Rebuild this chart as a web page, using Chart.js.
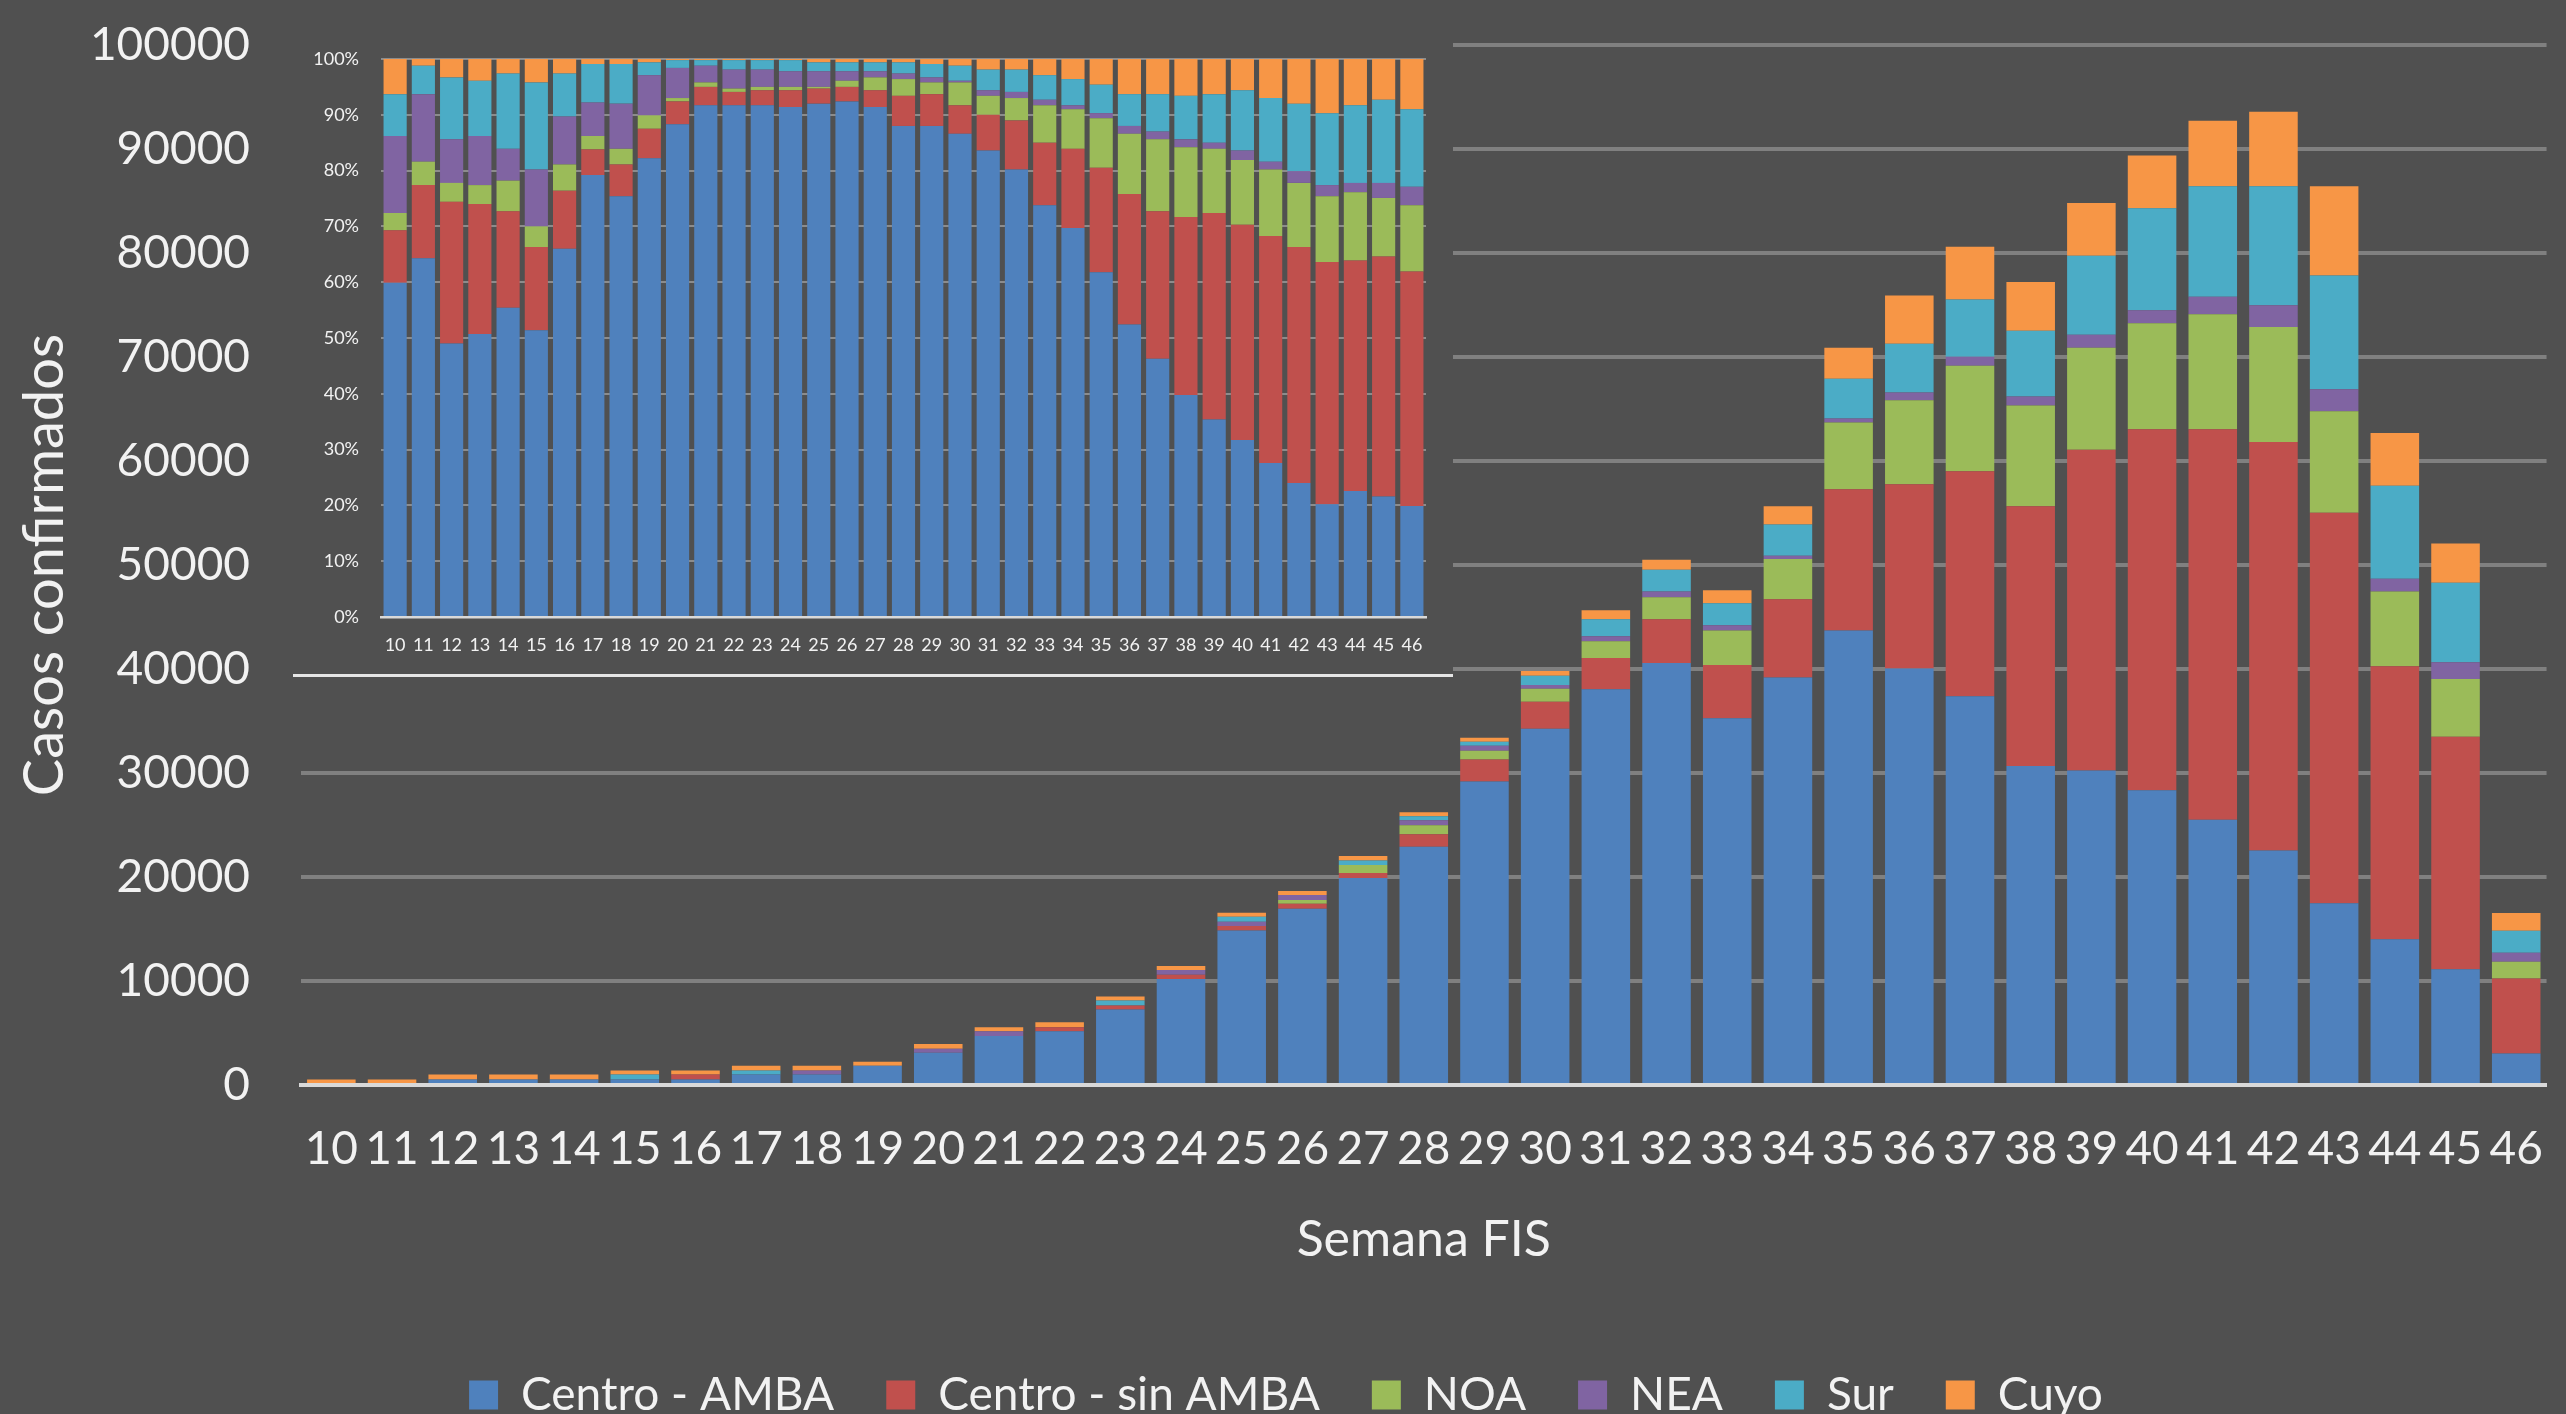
<!DOCTYPE html>
<html>
<head>
<meta charset="utf-8">
<script src="https://cdn.jsdelivr.net/npm/chart.js@4.4.1/dist/chart.umd.min.js"></script>
<style>
  html, body { margin: 0; padding: 0; overflow: hidden; background: #505050; width: 2566px; height: 1414px; }
  #main { position: absolute; left: 0; top: 0; }
  #inset-box { position: absolute; left: 293px; top: 0; width: 1160px; height: 674px; background: #505050; border-bottom: 3px solid #e6e6e6; }
  #inset { display: block; }
</style>
</head>
<body>
<canvas id="main" width="2580" height="1428"></canvas>
<div id="inset-box"><canvas id="inset" width="1160" height="674"></canvas></div>
<script>
// semanas epidemiologicas (FIS)
const semanas = ['10','11','12','13','14','15','16','17','18','19','20','21','22','23','24','25','26','27','28',
                 '29','30','31','32','33','34','35','36','37','38','39','40','41','42','43','44','45','46'];

const regiones = ['Centro - AMBA', 'Centro - sin AMBA', 'NOA', 'NEA', 'Sur', 'Cuyo'];
const colores  = ['#4F81BD', '#C0504D', '#9BBB59', '#8064A2', '#4BACC6', '#F79646'];

// casos confirmados por semana (grafico principal)
const centroAmba   = [190,190,540,540,540,540,540,1010,1010,1860,3100,4710,5180,7270,10200,14860,16940,19900,22900,
                      29190,34260,38050,40570,35260,39180,43710,40050,37380,30680,30250,28350,25510,22540,17480,14020,11120,3030];
const centroSinAmba = [0,0,0,0,0,0,470,0,0,0,0,0,380,380,390,420,480,480,1210,
                      2100,2580,3000,4210,5120,7520,13570,17720,21640,24960,30840,34710,37550,39290,37550,26250,22360,7220];
const noa          = [0,0,0,0,0,0,0,0,0,0,0,0,0,0,0,0,380,770,870,
                      860,1250,1630,2120,3330,3870,6430,8060,10140,9700,9810,10190,11060,11050,9760,7170,5560,1610];
const nea          = [0,0,0,0,0,0,0,0,380,0,380,470,0,0,470,410,480,0,470,
                      480,380,480,550,490,330,380,760,870,870,1250,1240,1670,2100,2100,1230,1600,860];
const sur          = [0,0,0,0,0,470,0,380,0,0,0,0,0,470,0,480,0,440,390,
                      380,890,1620,2100,2120,3000,3810,4690,5500,6320,7580,9820,10620,11430,10940,8960,7660,2100];
const cuyo         = [350,350,470,470,470,380,380,470,470,380,470,380,480,380,380,390,380,420,380,
                      390,450,870,950,1250,1740,3000,4630,5070,4690,5070,5070,6300,7170,8580,5060,3770,1730];

// distribucion porcentual (grafico chico)
const pctCentroAmba    = [59.9,64.3,49,50.7,55.4,51.4,66,79.2,75.4,82.2,88.3,91.7,91.7,91.7,91.4,92,92.4,91.4,88,
                          88,86.6,83.6,80.2,73.8,69.7,61.8,52.4,46.3,39.8,35.4,31.7,27.6,24,20.2,22.6,21.6,19.9];
const pctCentroSinAmba = [9.4,13.1,25.4,23.3,17.3,14.9,10.4,4.6,5.7,5.3,4.1,3.3,2.4,2.7,3,2.7,2.6,3,5.4,
                          5.7,5.1,6.4,8.8,11.2,14.2,18.7,23.4,26.4,31.9,37,38.6,40.7,42.3,43.4,41.3,43,42];
const pctNoa           = [3.1,4.2,3.4,3.4,5.5,3.7,4.7,2.4,2.8,2.4,0.6,0.8,0.6,0.6,0.6,0.3,1.1,2.3,3,
                          2.1,4.1,3.4,4,6.7,7.1,8.9,10.8,12.9,12.5,11.5,11.6,11.9,11.5,11.8,12.2,10.5,11.9];
const pctNea           = [13.8,12.1,7.8,8.8,5.7,10.2,8.6,6,8.1,7.2,5.4,3,3.4,3.1,2.8,2.8,1.7,1.1,1,
                          0.9,0.3,1,1.1,1,0.7,0.9,1.4,1.4,1.4,1.1,1.7,1.4,2.1,2,1.7,2.7,3.3];
const pctSur           = [7.5,5.1,11.1,9.9,13.5,15.6,7.7,6.9,7.1,2.3,1.4,1,1.7,1.7,2,1.6,1.6,1.6,2,
                          2.4,2.7,3.7,4,4.4,4.7,5.1,5.7,6.7,7.8,8.7,10.8,11.4,12.1,12.9,13.9,14.9,13.9];
const pctCuyo          = [6.3,1.2,3.3,3.9,2.6,4.2,2.6,0.9,0.9,0.6,0.2,0.2,0.2,0.2,0.2,0.6,0.6,0.6,0.6,
                          0.9,1.2,1.9,1.9,2.9,3.6,4.6,6.3,6.3,6.6,6.3,5.6,7,8,9.7,8.3,7.3,9];

const yTicksCasos = [0, 100000, 10000];   // min, max, paso
const yTicksPct   = [0, 100, 10];

Chart.defaults.font.family = 'Lato, "Open Sans", sans-serif';
Chart.defaults.color = '#f2f2f2';

function armarDatasets(listas, barPct) {
    return listas.map((data, i) => ({
        label: regiones[i],
        data: data,
        backgroundColor: colores[i],
        borderWidth: 0,
        barPercentage: barPct,
        categoryPercentage: 1
    }));
}

// ====================== grafico principal ======================
new Chart(document.getElementById('main'), {
    type: 'bar',
    data: {
        labels: semanas,
        datasets: armarDatasets([centroAmba, centroSinAmba, noa, nea, sur, cuyo], 0.8)
    },
    options: {
        responsive: false,
        animation: false,
        devicePixelRatio: 1,
        layout: { padding: { left: 0, right: 8, top: 45, bottom: 0 } },
        plugins: {
            legend: {
                position: 'bottom',
                labels: { boxWidth: 29, boxHeight: 29, padding: 52, font: { size: 46 }, color: '#f2f2f2' }
            },
            tooltip: { enabled: false }
        },
        scales: {
            x: {
                stacked: true,
                z: 1,
                grid: { display: false, drawTicks: false },
                border: { display: true, color: '#d9d9d9', width: 4 },
                ticks: { font: { size: 46 }, padding: 37, maxRotation: 0, autoSkip: false },
                title: { display: true, text: 'Semana FIS', font: { size: 50 }, padding: { top: 0, bottom: 50 } },
                afterFit: s => {
                    const leg = s.chart.legend ? s.chart.legend.height : 0;
                    s.height = s.chart.height - 1085 - leg;
                }
            },
            y: {
                stacked: true,
                min: yTicksCasos[0],
                max: yTicksCasos[1],
                ticks: { stepSize: yTicksCasos[2], font: { size: 46 }, padding: 51, callback: v => String(v) },
                grid: { color: c => c.tick.value === 0 ? 'rgba(0,0,0,0)' : '#808080', lineWidth: 4, drawTicks: false },
                border: { display: false },
                title: { display: true, text: 'Casos confirmados', font: { size: 56 }, padding: { top: 11, bottom: 0 } },
                afterFit: s => {
                    s.width = 301;
                    // el padding de las etiquetas no debe empujar el area del grafico
                    s.paddingTop = 0;
                    s.paddingBottom = 0;
                }
            }
        }
    }
});

// ====================== grafico chico (100%) ======================
new Chart(document.getElementById('inset'), {
    type: 'bar',
    data: {
        labels: semanas,
        datasets: armarDatasets([pctCentroAmba, pctCentroSinAmba, pctNoa, pctNea, pctSur, pctCuyo], 0.82)
    },
    options: {
        responsive: false,
        animation: false,
        devicePixelRatio: 1,
        layout: { padding: { left: 0, right: 27, top: 59, bottom: 0 } },
        plugins: { legend: { display: false }, tooltip: { enabled: false } },
        scales: {
            x: {
                stacked: true,
                z: 1,
                grid: { display: false, drawTicks: false },
                border: { display: true, color: '#d9d9d9', width: 2.5 },
                ticks: { font: { size: 18 }, padding: 17, maxRotation: 0, autoSkip: false },
                afterFit: s => { s.height = 57; }
            },
            y: {
                stacked: true,
                min: yTicksPct[0],
                max: yTicksPct[1],
                ticks: { stepSize: yTicksPct[2], font: { size: 18 }, padding: 22, callback: v => v + '%' },
                grid: { color: c => c.tick.value === 0 ? 'rgba(0,0,0,0)' : '#8c8c8c', lineWidth: 2, drawTicks: false },
                border: { display: false },
                afterFit: s => { s.width = 88; }
            }
        }
    }
});
</script>
</body>
</html>
